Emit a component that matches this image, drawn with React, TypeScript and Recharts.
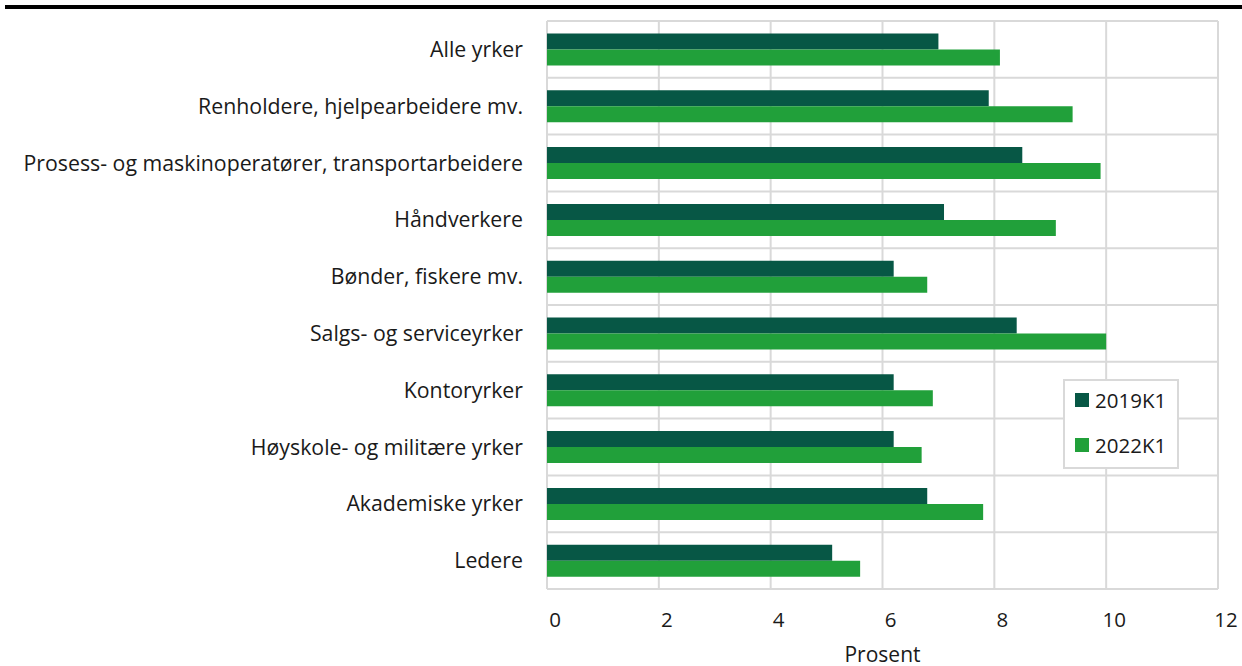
import React from 'react';
import { BarChart, Bar, XAxis, YAxis, CartesianGrid, Legend } from 'recharts';

const categories = [
  'Alle yrker',
  'Renholdere, hjelpearbeidere mv.',
  'Prosess- og maskinoperatører, transportarbeidere',
  'Håndverkere',
  'Bønder, fiskere mv.',
  'Salgs- og serviceyrker',
  'Kontoryrker',
  'Høyskole- og militære yrker',
  'Akademiske yrker',
  'Ledere',
];
const values2019 = [7.0, 7.9, 8.5, 7.1, 6.2, 8.4, 6.2, 6.2, 6.8, 5.1];
const values2022 = [8.1, 9.4, 9.9, 9.1, 6.8, 10.0, 6.9, 6.7, 7.8, 5.6];
const xTicks = [0, 2, 4, 6, 8, 10, 12];

const DARK = '#075745';
const LIGHT = '#21a03a';
const FONT = '"Open Sans", sans-serif';

const data = categories.map((name, i) => ({
  name,
  y2019: values2019[i],
  y2022: values2022[i],
}));

const LegendBox = () => (
  <div
    style={{
      position: 'absolute',
      left: 0,
      top: 0,
      width: 112,
      height: 86,
      border: '2px solid #d9d9d9',
      background: '#fff',
      fontFamily: FONT,
      fontSize: 20.5,
      color: '#1a1a1a',
    }}
  >
    {[
      { label: '2019K1', color: DARK },
      { label: '2022K1', color: LIGHT },
    ].map((it, i) => (
      <div
        key={it.label}
        style={{ position: 'absolute', left: 10, top: i === 0 ? 5 : 50, display: 'flex', alignItems: 'center', height: 28, whiteSpace: 'nowrap' }}
      >
        <span style={{ display: 'inline-block', width: 14, height: 14, background: it.color, marginRight: 6 }} />
        <span>{it.label}</span>
      </div>
    ))}
  </div>
);

const App: React.FC = () => {
  return (
    <div style={{ position: 'absolute', left: 0, top: 0, width: 1242, height: 666, background: '#fff' }}>
      <div style={{ position: 'absolute', left: 5, top: 5, width: 1237, height: 4, background: '#000' }} />
      <BarChart
        width={1242}
        height={666}
        data={data}
        layout="vertical"
        margin={{ top: 21, right: 24, bottom: 0, left: 0 }}
        barCategoryGap="22%"
        barGap={0}
      >
        <CartesianGrid
          stroke="#d9d9d9"
          strokeWidth={2}
          horizontalCoordinatesGenerator={({ offset }: any) =>
            categories.map((_, i) => offset.top + (i * offset.height) / categories.length).concat(offset.top + offset.height)
          }
        />
        <XAxis
          type="number"
          domain={[0, 12]}
          ticks={xTicks}
          axisLine={false}
          tickLine={false}
          tickSize={0}
          tickMargin={23}
          height={77}
          tick={{ fill: '#1a1a1a', fontSize: 20.5, fontFamily: FONT, dx: 8 }}
          label={{ value: 'Prosent', position: 'insideBottom', offset: 4, fill: '#1a1a1a', fontSize: 21, fontFamily: FONT }}
        />
        <YAxis
          type="category"
          dataKey="name"
          width={547}
          axisLine={false}
          tickLine={false}
          tickSize={0}
          tickMargin={24}
          interval={0}
          tick={{ fill: '#1a1a1a', fontSize: 21.3, fontFamily: FONT }}
        />
        <Legend
          content={<LegendBox />}
          wrapperStyle={{ position: 'absolute', left: 1063, top: 379, width: 0, height: 0, overflow: 'visible' }}
        />
        <Bar dataKey="y2019" name="2019K1" fill={DARK} isAnimationActive={false} />
        <Bar dataKey="y2022" name="2022K1" fill={LIGHT} isAnimationActive={false} />
      </BarChart>
    </div>
  );
};

export default App;
